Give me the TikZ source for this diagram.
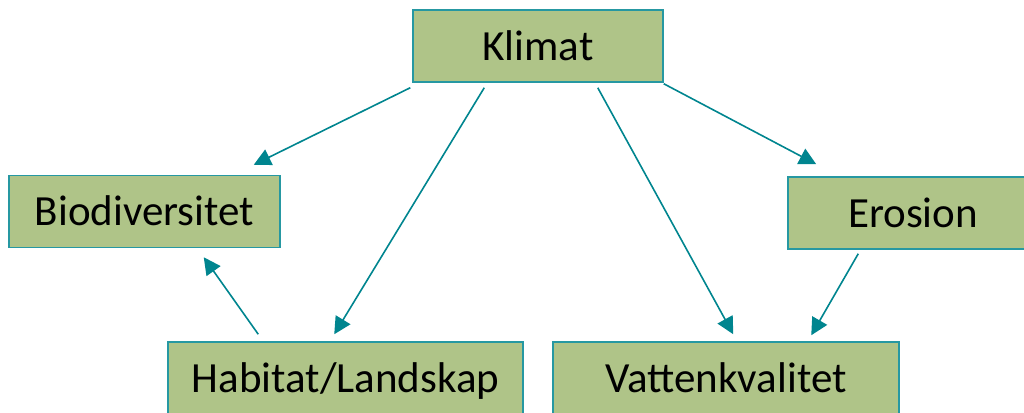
\documentclass[tikz,border=0pt]{standalone}
\usepackage{fontspec}
\setmainfont{Carlito}
\usepackage{xcolor}
\definecolor{boxfill}{RGB}{175,196,136}
\definecolor{boxline}{RGB}{38,152,162}
\definecolor{arrowc}{RGB}{0,133,143}
\usepackage{tikz}
\usetikzlibrary{arrows.meta,calc,positioning}

\begin{document}
\begin{tikzpicture}[x=1pt,y=-1pt,
    box/.style={draw=boxline,fill=boxfill,line width=1.5pt,inner sep=0pt,
        minimum height=72pt,text height=28pt,text depth=0pt,
        font=\fontsize{43}{49}\selectfont},
    link/.style={draw=arrowc,line width=1.6pt,-{Triangle[length=17pt,width=17pt]}}]

            \clip (0,0) rectangle (1024,412);

            \node[box,minimum width=250pt] (klimat) at (538,46) {Klimat};
            \node[box,minimum width=271pt] (bio) at (144.5,211.5) {Biodiversitet};
            \node[box,minimum width=250pt] (erosion) at (913,213) {Erosion};
            \node[box,minimum width=355pt] (habitat) at (345.5,378) {Habitat/Landskap};
            \node[box,minimum width=346pt] (vatten) at (726,378) {Vattenkvalitet};

            % from Klimat
            \draw[link] ($(klimat.south west)+(-2,5)$) to ($(bio.north east)+(-27,-10)$);
            \draw[link] ($(klimat.south west)+(72,5)$) to ($(habitat.north west)+(167,-7)$);
            \draw[link] ($(klimat.south east)+(-66,5)$) to ($(vatten.north west)+(181,-7)$);
            \draw[link] ($(klimat.south east)+(0,1)$) to ($(erosion.north west)+(29,-12)$);
            % the rest
            \draw[link] ($(habitat.north west)+(91,-7)$) to ($(bio.south east)+(-77,9)$);
            \draw[link] ($(erosion.south west)+(71,4)$) to ($(vatten.north west)+(259,-6)$);
        \end{tikzpicture}
\end{document}
